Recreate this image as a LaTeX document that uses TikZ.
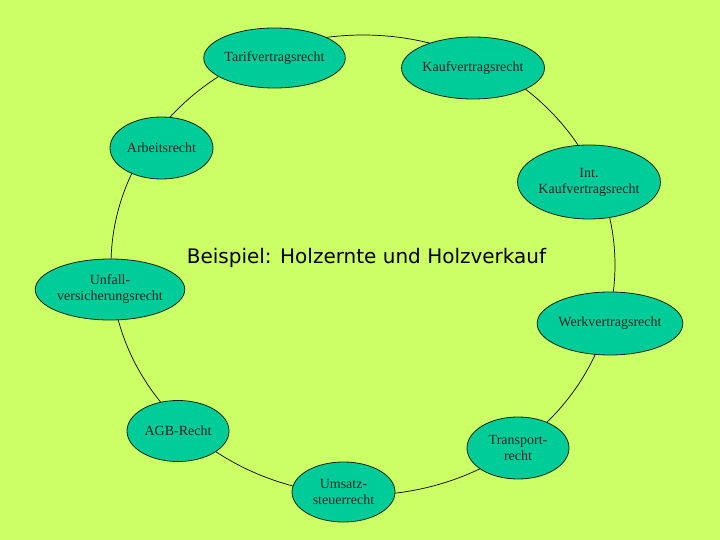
\documentclass[tikz,border=0pt]{standalone}
\usepackage{fontspec}
\setmainfont{Liberation Serif}
\newfontfamily\titlefont{DejaVu Sans}
\usetikzlibrary{shapes.geometric}
\definecolor{bggreen}{RGB}{204,255,102}
\definecolor{nodeteal}{RGB}{0,204,153}
\definecolor{edgedark}{RGB}{10,40,20}
\tikzset{
  topic/.style={ellipse, draw=edgedark, line width=0.8pt, fill=nodeteal, inner sep=0pt,
    align=center, font=\fontsize{14}{16}\selectfont, text=black!85},
  ring/.style={draw=black, line width=0.7pt}
}
\begin{document}
\begin{tikzpicture}[x=1pt,y=-1pt]
\fill[bggreen] (0,0) rectangle (720,540);
\useasboundingbox (0,0) rectangle (720,540);
\coordinate (ringc) at (363,265);
\draw[ring] (ringc) ellipse [x radius=252pt, y radius=230pt];
\node[topic, minimum width=103pt, minimum height=60pt] (tarif) at (274.5,58) {Tarifvertragsrecht};
\node[topic, minimum width=102pt, minimum height=62pt] (kauf) at (473,68) {Kaufvertragsrecht};
\node[topic, minimum width=103pt, minimum height=62pt] (arbeit) at (161.5,148) {Arbeitsrecht};
\node[topic, minimum width=116pt, minimum height=74pt] (intkauf) at (589,182) {Int.\\Kaufvertragsrecht};
\node[topic, minimum width=125pt, minimum height=61pt] (unfall) at (110,289.5) {Unfall-\\versicherungsrecht};
\node[topic, minimum width=104pt, minimum height=63pt] (werk) at (610,323.5) {Werkvertragsrecht};
\node[topic, minimum width=102pt, minimum height=61pt] (agb) at (178,431) {AGB-Recht};
\node[topic, minimum width=102pt, minimum height=62pt] (transport) at (518,448) {Transport-\\recht};
\node[topic, minimum width=103pt, minimum height=60pt] (umsatz) at (343.5,492) {Umsatz-\\steuerrecht};
\node[font=\titlefont\fontsize{20}{24}\selectfont, text=black, inner sep=0pt] (title) at (366.5,258) {Beispiel: Holzernte und Holzverkauf};
\end{tikzpicture}
\end{document}
